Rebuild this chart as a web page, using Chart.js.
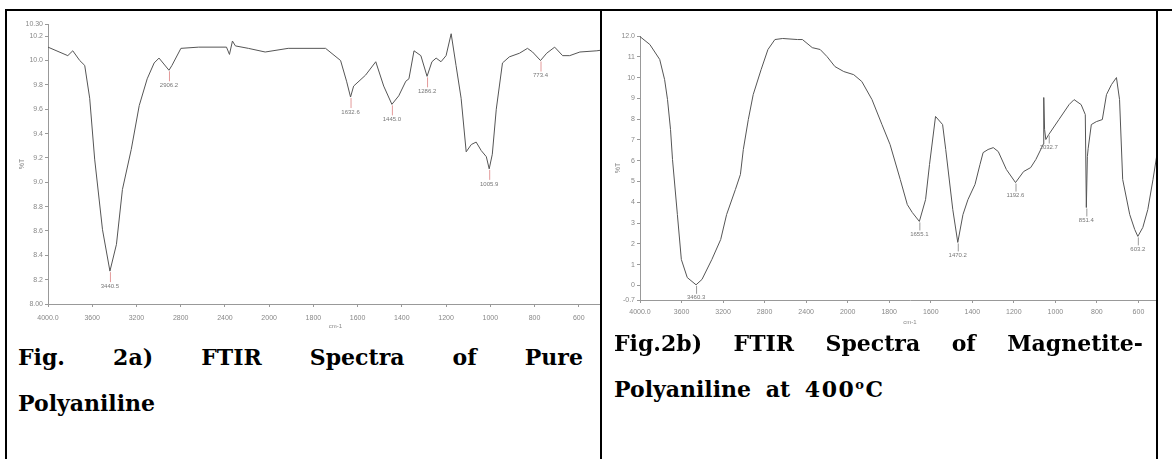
<!DOCTYPE html>
<html>
<head>
<meta charset="utf-8">
<script src="https://cdn.jsdelivr.net/npm/chart.js@4/dist/chart.umd.min.js"></script>
<style>
html, body { margin: 0; padding: 0; background: #fff; }
body { width: 1172px; height: 459px; position: relative; overflow: hidden; }
.rule { position: absolute; background: #000; z-index: 5; }
.clip { position: absolute; overflow: hidden; }
.clip canvas { position: absolute; left: 0; top: 0; }
.cap { position: absolute; font-family: "DejaVu Serif", serif; font-weight: bold; font-size: 22px; line-height: 22px; color: #000; white-space: nowrap; }
.just { display: flex; justify-content: space-between; }
.sup { font-size: 13px; position: relative; top: -8px; }
</style>
</head>
<body>

<!-- table rules -->
<div class="rule" style="left:5px;top:9px;width:1167px;height:2px"></div>
<div class="rule" style="left:5px;top:9px;width:2px;height:450px"></div>
<div class="rule" style="left:600px;top:9px;width:2px;height:450px"></div>
<div class="rule" style="left:1156px;top:9px;width:2px;height:450px"></div>

<div class="clip" style="left:7px;top:11px;width:593px;height:330px">
  <canvas id="chartA" width="616" height="325"></canvas>
</div>
<div class="clip" style="left:603px;top:11px;width:553px;height:330px">
  <canvas id="chartB" width="577" height="322"></canvas>
</div>

<div class="cap just" style="left:18px;top:346px;width:565px">
  <span>Fig.</span><span>2a)</span><span>FTIR</span><span>Spectra</span><span>of</span><span>Pure</span>
</div>
<div class="cap" style="left:18px;top:392px">Polyaniline</div>

<div class="cap just" style="left:614px;top:332px;width:529px">
  <span>Fig.2b)</span><span>FTIR</span><span>Spectra</span><span>of</span><span>Magnetite-</span>
</div>
<div class="cap" style="left:614px;top:378px;word-spacing:7px">Polyaniline at <span style="letter-spacing:1.5px">400<span class="sup">o</span>C</span></div>

<script>
// x axis (cm-1), same for both spectra: scale changes at 2000
const xTicks = [4000, 3600, 3200, 2800, 2400, 2000, 1800, 1600, 1400, 1200, 1000, 800, 600];
const xLabels = ['4000.0', '3600', '3200', '2800', '2400', '2000', '1800', '1600', '1400', '1200', '1000', '800', '600'];

// Fig 2a - pure polyaniline
const wnA = [4000, 3821, 3776, 3713, 3668, 3623, 3578, 3507, 3440, 3381, 3327, 3247, 3175, 3103, 3040, 2996,
  2906, 2879, 2798, 2637, 2386, 2359, 2332, 2305, 2188, 2036, 1914, 1745, 1677, 1650, 1632, 1618, 1564, 1518,
  1482, 1445, 1414, 1382, 1368, 1345, 1314, 1286, 1264, 1245, 1223, 1200, 1177, 1155, 1132, 1109, 1086, 1064,
  1041, 1018, 1005, 991, 973, 945, 914, 868, 832, 809, 773, 745, 709, 673, 641, 595, 518, 480];
const trA = [10.11, 10.04, 10.08, 10.00, 9.96, 9.69, 9.19, 8.61, 8.27, 8.49, 8.94, 9.27, 9.63, 9.85, 9.98, 10.02,
  9.92, 9.96, 10.10, 10.11, 10.11, 10.05, 10.16, 10.12, 10.10, 10.07, 10.10, 10.10, 10.00, 9.83, 9.70, 9.79, 9.88, 9.99,
  9.79, 9.64, 9.71, 9.83, 9.85, 10.08, 10.04, 9.87, 9.99, 10.02, 9.99, 10.04, 10.22, 9.96, 9.69, 9.25, 9.31, 9.33,
  9.26, 9.21, 9.11, 9.23, 9.60, 9.98, 10.03, 10.06, 10.10, 10.07, 10.00, 10.06, 10.11, 10.04, 10.04, 10.07, 10.08, 10.09];
const peaksA = [3440.5, 2906.2, 1632.6, 1445.0, 1286.2, 1005.9, 773.4];
const yTicksA = [8.0, 8.2, 8.4, 8.6, 8.8, 9.0, 9.2, 9.4, 9.6, 9.8, 10.0, 10.2, 10.3];
const yLabelsA = ['8.00', '8.2', '8.4', '8.6', '8.8', '9.0', '9.2', '9.4', '9.6', '9.8', '10.0', '10.2', '10.30'];

// Fig 2b - magnetite-polyaniline at 400 C
const wnB = [4000, 3905, 3810, 3763, 3735, 3706, 3687, 3640, 3602, 3545, 3460, 3403, 3308, 3223, 3166, 3081, 3033,
  3005, 2957, 2910, 2834, 2768, 2701, 2626, 2483, 2436, 2341, 2265, 2199, 2123, 2038, 1971, 1932, 1883, 1835, 1796,
  1747, 1713, 1689, 1655, 1625, 1606, 1577, 1543, 1528, 1494, 1470, 1445, 1421, 1387, 1363, 1348, 1324, 1299, 1275,
  1236, 1192, 1153, 1119, 1094, 1066, 1058, 1056, 1052, 1046, 1032, 983, 934, 910, 876, 856, 851, 846, 842, 827,
  803, 774, 754, 730, 706, 691, 676, 642, 618, 603, 579, 555, 530, 500];
const trB = [11.97, 11.59, 10.87, 9.90, 8.94, 7.50, 6.06, 3.41, 1.25, 0.38, 0.03, 0.29, 1.25, 2.21, 3.41, 4.62, 5.34,
  6.54, 7.98, 9.18, 10.38, 11.35, 11.83, 11.88, 11.83, 11.83, 11.44, 11.35, 11.01, 10.53, 10.29, 10.14, 9.81, 8.94, 7.74, 6.78,
  5.10, 3.89, 3.51, 3.08, 4.13, 5.82, 8.13, 7.74, 6.54, 3.65, 2.07, 3.41, 4.13, 4.86, 5.82, 6.39, 6.54, 6.63, 6.44,
  5.58, 4.95, 5.48, 5.67, 6.06, 6.63, 6.80, 9.04, 7.50, 7.02, 7.26, 7.98, 8.70, 8.94, 8.70, 8.22, 3.75, 6.20, 6.60, 7.74,
  7.88, 7.98, 9.18, 9.66, 10.00, 8.94, 5.10, 3.41, 2.69, 2.36, 2.79, 3.65, 5.10, 7.00];
const peaksB = [3460.3, 1655.1, 1470.2, 1192.6, 1032.7, 851.4, 603.2];
const yTicksB = [-0.7, 0, 1, 2, 3, 4, 5, 6, 7, 8, 9, 10, 11, 12];
const yLabelsB = ['-0.7', '0', '1', '2', '3', '4', '5', '6', '7', '8', '9', '10', '11', '12.0'];

const smallFont = "'Liberation Sans', sans-serif";

// position along the axis: 400 cm-1 per step above 2000, 200 per step below
function pos(w) {
  return w >= 2000 ? (4000 - w) / 400 : 5 + (2000 - w) / 200;
}

// little marker line + wavenumber under each band
function peakPlugin(wn, tr, peaks, markColor, drop) {
  return {
    id: 'peakMarks',
    afterDatasetsDraw(chart) {
      const ctx = chart.ctx;
      const xs = chart.scales.x, ys = chart.scales.y;
      ctx.save();
      ctx.font = '6px ' + smallFont;
      ctx.textAlign = 'center';
      ctx.textBaseline = 'middle';
      peaks.forEach(p => {
        let best = 0;
        wn.forEach((w, i) => { if (Math.abs(w - p) < Math.abs(wn[best] - p)) best = i; });
        const px = xs.getPixelForValue(pos(wn[best]));
        const py = ys.getPixelForValue(tr[best]);
        ctx.strokeStyle = markColor;
        ctx.lineWidth = 1;
        ctx.beginPath();
        ctx.moveTo(px + 0.5, py + 1);
        ctx.lineTo(px + 0.5, py + drop - 4);
        ctx.stroke();
        ctx.fillStyle = '#777';
        ctx.fillText(p.toFixed(1), px, py + drop);
      });
      ctx.restore();
    }
  };
}

function buildChart(id, wn, tr, peaks, yTicks, yLabels, cfg) {
  const points = wn.map((w, i) => ({ x: pos(w), y: tr[i] }));
  return new Chart(document.getElementById(id), {
    type: 'line',
    data: {
      datasets: [{
        data: points,
        borderColor: '#555',
        borderWidth: 1,
        pointRadius: 0,
        tension: 0,
        fill: false
      }]
    },
    options: {
      responsive: false,
      animation: false,
      layout: { padding: { top: cfg.padTop, left: 0, right: 0, bottom: 0 } },
      plugins: { legend: { display: false }, tooltip: { enabled: false } },
      scales: {
        x: {
          type: 'linear',
          min: 0,
          max: 13,
          afterBuildTicks: s => { s.ticks = xTicks.map(w => ({ value: pos(w) })); },
          afterFit: s => { s.height = cfg.xHeight; },
          ticks: {
            callback: (v, i) => xLabels[i],
            autoSkip: false,
            maxRotation: 0,
            padding: cfg.xPad,
            color: '#888',
            font: { size: 7, family: smallFont }
          },
          grid: { drawOnChartArea: false, tickLength: 3, color: '#999' },
          border: { color: '#999' },
          title: {
            display: true,
            text: 'cm-1',
            color: '#888',
            font: { size: 6, family: smallFont },
            padding: { top: 0, bottom: cfg.titlePad }
          }
        },
        y: {
          type: 'linear',
          min: yTicks[0],
          max: yTicks[yTicks.length - 1],
          afterBuildTicks: s => { s.ticks = yTicks.map(v => ({ value: v })); },
          afterFit: s => { s.width = cfg.yWidth; },
          ticks: {
            callback: (v, i) => yLabels[i],
            autoSkip: false,
            padding: 2,
            color: '#888',
            font: { size: 7, family: smallFont }
          },
          grid: { drawOnChartArea: false, tickLength: 3, color: '#999' },
          border: { color: '#999' },
          title: {
            display: true,
            text: '%T',
            color: '#888',
            font: { size: 7, family: smallFont },
            padding: { top: 11, bottom: 0 }
          }
        }
      }
    },
    plugins: [peakPlugin(wn, tr, peaks, cfg.markColor, cfg.drop)]
  });
}

buildChart('chartA', wnA, trA, peaksA, yTicksA, yLabelsA,
  { padTop: 13, yWidth: 41, xHeight: 32, xPad: 7, titlePad: 6, markColor: '#e39a9a', drop: 15 });
buildChart('chartB', wnB, trB, peaksB, yTicksB, yLabelsB,
  { padTop: 25, yWidth: 37, xHeight: 33, xPad: 5, titlePad: 7, markColor: '#999', drop: 13 });
</script>
</body>
</html>
